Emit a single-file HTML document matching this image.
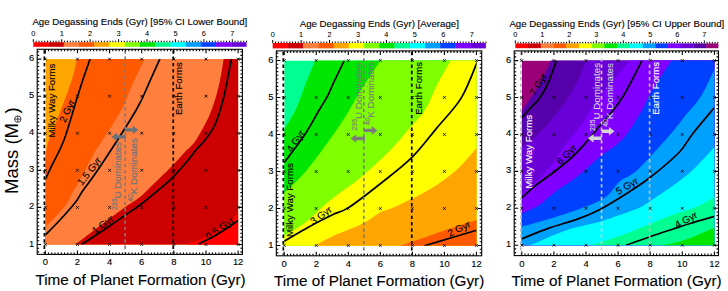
<!DOCTYPE html><html><head><meta charset="utf-8"><style>html,body{margin:0;padding:0;background:#fff;width:728px;height:291px;overflow:hidden}svg{display:block}</style></head><body>
<svg width="728" height="291" viewBox="0 0 728 291" font-family='"Liberation Sans", sans-serif'>
<rect width="728" height="291" fill="#fff"/>
<clipPath id="clip0"><rect x="45.4" y="59.1" width="192.7" height="185.5"/></clipPath>
<g clip-path="url(#clip0)">
<rect x="45.4" y="59.1" width="192.7" height="185.5" fill="#ffa500"/>
<path d="M76.80,39.10L76.80,58.90C75.97,62.42 75.10,69.82 71.80,80.00C68.50,90.18 60.83,110.00 57.00,120.00C53.17,130.00 50.75,134.00 48.80,140.00C46.85,146.00 45.88,153.33 45.30,156.00L25.40,156.00L25.40,264.60L258.10,264.60L258.10,39.10Z" fill="#ff5a00"/>
<path d="M144.50,39.10L144.50,58.90C142.08,64.08 133.87,81.48 130.00,90.00C126.13,98.52 126.30,100.95 121.30,110.00C116.30,119.05 104.47,137.22 100.00,144.30C95.53,151.38 98.17,145.95 94.50,152.50C90.83,159.05 81.42,177.35 78.00,183.60C74.58,189.85 76.22,186.18 74.00,190.00C71.78,193.82 69.33,200.50 64.70,206.50C60.07,212.50 49.43,222.67 46.20,226.00C42.97,229.33 45.45,226.42 45.30,226.50L25.40,226.50L25.40,264.60L258.10,264.60L258.10,39.10Z" fill="#ff7f3f"/>
<path d="M223.70,39.10L223.70,58.90C222.87,63.45 220.97,77.07 218.70,86.20C216.43,95.33 213.88,104.73 210.10,113.70C206.32,122.67 200.18,133.62 196.00,140.00C191.82,146.38 188.67,148.00 185.00,152.00C181.33,156.00 177.33,160.50 174.00,164.00C170.67,167.50 169.00,169.08 165.00,173.00C161.00,176.92 154.17,183.50 150.00,187.50C145.83,191.50 144.22,193.67 140.00,197.00C135.78,200.33 130.53,203.33 124.70,207.50C118.87,211.67 113.23,215.82 105.00,222.00C96.77,228.18 80.25,240.83 75.30,244.60L75.30,264.60L258.10,264.60L258.10,39.10Z" fill="#cc0000"/>
<path d="M258.10,213.20L238.10,213.20C233.73,216.65 220.40,228.78 211.90,233.90C203.40,239.02 191.23,242.23 187.10,243.90L187.10,264.60L258.10,264.60Z" fill="#ff0000"/>
<path d="M90.10,58.90C88.88,62.42 85.22,72.70 82.80,80.00C80.38,87.30 78.73,92.70 75.60,102.70C72.47,112.70 68.05,129.33 64.00,140.00C59.95,150.67 54.42,160.13 51.30,166.70C48.18,173.27 46.30,177.28 45.30,179.40" fill="none" stroke="#000" stroke-width="1.7" stroke-linejoin="round"/>
<path d="M159.90,58.90C158.25,62.55 153.95,72.28 150.00,80.80C146.05,89.32 144.53,95.67 136.20,110.00C127.87,124.33 108.82,153.47 100.00,166.80C91.18,180.13 87.12,184.47 83.30,190.00C79.48,195.53 78.98,197.25 77.10,200.00C75.22,202.75 74.85,203.17 72.00,206.50C69.15,209.83 64.45,215.25 60.00,220.00C55.55,224.75 47.75,232.50 45.30,235.00" fill="none" stroke="#000" stroke-width="1.7" stroke-linejoin="round"/>
<path d="M231.40,58.90C230.15,65.17 226.58,85.65 223.90,96.50C221.22,107.35 218.45,116.75 215.30,124.00C212.15,131.25 208.22,135.67 205.00,140.00C201.78,144.33 198.87,146.57 196.00,150.00C193.13,153.43 191.75,155.97 187.80,160.60C183.85,165.23 177.60,172.57 172.30,177.80C167.00,183.03 161.38,187.47 156.00,192.00C150.62,196.53 145.22,201.08 140.00,205.00C134.78,208.92 130.12,211.75 124.70,215.50C119.28,219.25 114.70,222.65 107.50,227.50C100.30,232.35 85.83,241.75 81.50,244.60" fill="none" stroke="#000" stroke-width="1.7" stroke-linejoin="round"/>
<path d="M198.50,243.90C201.75,242.23 211.40,237.80 218.00,233.90C224.60,230.00 234.75,222.73 238.10,220.50" fill="none" stroke="#000" stroke-width="1.7" stroke-linejoin="round"/>
</g>
<line x1="44.40" y1="50.3" x2="44.40" y2="253.4" stroke="#000" stroke-width="1.7" stroke-dasharray="3.4,2.9"/>
<line x1="173.26" y1="50.3" x2="173.26" y2="253.4" stroke="#000" stroke-width="1.7" stroke-dasharray="3.4,2.9"/>
<line x1="125.15" y1="50.3" x2="125.15" y2="253.4" stroke="#7a7a7a" stroke-width="1.6" stroke-dasharray="3.4,2.9"/>
<path d="M43.90,243.10L46.70,245.90M43.90,245.90L46.70,243.10" stroke="#000" stroke-width="0.85"/>
<path d="M43.90,206.02L46.70,208.82M43.90,208.82L46.70,206.02" stroke="#000" stroke-width="0.85"/>
<path d="M43.90,168.94L46.70,171.74M43.90,171.74L46.70,168.94" stroke="#000" stroke-width="0.85"/>
<path d="M43.90,131.86L46.70,134.66M43.90,134.66L46.70,131.86" stroke="#000" stroke-width="0.85"/>
<path d="M43.90,94.78L46.70,97.58M43.90,97.58L46.70,94.78" stroke="#000" stroke-width="0.85"/>
<path d="M43.90,57.70L46.70,60.50M43.90,60.50L46.70,57.70" stroke="#000" stroke-width="0.85"/>
<path d="M76.04,243.10L78.84,245.90M76.04,245.90L78.84,243.10" stroke="#000" stroke-width="0.85"/>
<path d="M76.04,206.02L78.84,208.82M76.04,208.82L78.84,206.02" stroke="#000" stroke-width="0.85"/>
<path d="M76.04,168.94L78.84,171.74M76.04,171.74L78.84,168.94" stroke="#000" stroke-width="0.85"/>
<path d="M76.04,131.86L78.84,134.66M76.04,134.66L78.84,131.86" stroke="#000" stroke-width="0.85"/>
<path d="M76.04,94.78L78.84,97.58M76.04,97.58L78.84,94.78" stroke="#000" stroke-width="0.85"/>
<path d="M76.04,57.70L78.84,60.50M76.04,60.50L78.84,57.70" stroke="#000" stroke-width="0.85"/>
<path d="M108.18,243.10L110.98,245.90M108.18,245.90L110.98,243.10" stroke="#000" stroke-width="0.85"/>
<path d="M108.18,206.02L110.98,208.82M108.18,208.82L110.98,206.02" stroke="#000" stroke-width="0.85"/>
<path d="M108.18,168.94L110.98,171.74M108.18,171.74L110.98,168.94" stroke="#000" stroke-width="0.85"/>
<path d="M108.18,131.86L110.98,134.66M108.18,134.66L110.98,131.86" stroke="#000" stroke-width="0.85"/>
<path d="M108.18,94.78L110.98,97.58M108.18,97.58L110.98,94.78" stroke="#000" stroke-width="0.85"/>
<path d="M108.18,57.70L110.98,60.50M108.18,60.50L110.98,57.70" stroke="#000" stroke-width="0.85"/>
<path d="M140.32,243.10L143.12,245.90M140.32,245.90L143.12,243.10" stroke="#000" stroke-width="0.85"/>
<path d="M140.32,206.02L143.12,208.82M140.32,208.82L143.12,206.02" stroke="#000" stroke-width="0.85"/>
<path d="M140.32,168.94L143.12,171.74M140.32,171.74L143.12,168.94" stroke="#000" stroke-width="0.85"/>
<path d="M140.32,131.86L143.12,134.66M140.32,134.66L143.12,131.86" stroke="#000" stroke-width="0.85"/>
<path d="M140.32,94.78L143.12,97.58M140.32,97.58L143.12,94.78" stroke="#000" stroke-width="0.85"/>
<path d="M140.32,57.70L143.12,60.50M140.32,60.50L143.12,57.70" stroke="#000" stroke-width="0.85"/>
<path d="M172.46,243.10L175.26,245.90M172.46,245.90L175.26,243.10" stroke="#000" stroke-width="0.85"/>
<path d="M172.46,206.02L175.26,208.82M172.46,208.82L175.26,206.02" stroke="#000" stroke-width="0.85"/>
<path d="M172.46,168.94L175.26,171.74M172.46,171.74L175.26,168.94" stroke="#000" stroke-width="0.85"/>
<path d="M172.46,131.86L175.26,134.66M172.46,134.66L175.26,131.86" stroke="#000" stroke-width="0.85"/>
<path d="M172.46,94.78L175.26,97.58M172.46,97.58L175.26,94.78" stroke="#000" stroke-width="0.85"/>
<path d="M172.46,57.70L175.26,60.50M172.46,60.50L175.26,57.70" stroke="#000" stroke-width="0.85"/>
<path d="M204.60,243.10L207.40,245.90M204.60,245.90L207.40,243.10" stroke="#000" stroke-width="0.85"/>
<path d="M204.60,206.02L207.40,208.82M204.60,208.82L207.40,206.02" stroke="#000" stroke-width="0.85"/>
<path d="M204.60,168.94L207.40,171.74M204.60,171.74L207.40,168.94" stroke="#000" stroke-width="0.85"/>
<path d="M204.60,131.86L207.40,134.66M204.60,134.66L207.40,131.86" stroke="#000" stroke-width="0.85"/>
<path d="M204.60,94.78L207.40,97.58M204.60,97.58L207.40,94.78" stroke="#000" stroke-width="0.85"/>
<path d="M204.60,57.70L207.40,60.50M204.60,60.50L207.40,57.70" stroke="#000" stroke-width="0.85"/>
<path d="M236.74,243.10L239.54,245.90M236.74,245.90L239.54,243.10" stroke="#000" stroke-width="0.85"/>
<path d="M236.74,206.02L239.54,208.82M236.74,208.82L239.54,206.02" stroke="#000" stroke-width="0.85"/>
<path d="M236.74,168.94L239.54,171.74M236.74,171.74L239.54,168.94" stroke="#000" stroke-width="0.85"/>
<path d="M236.74,131.86L239.54,134.66M236.74,134.66L239.54,131.86" stroke="#000" stroke-width="0.85"/>
<path d="M236.74,94.78L239.54,97.58M236.74,97.58L239.54,94.78" stroke="#000" stroke-width="0.85"/>
<path d="M236.74,57.70L239.54,60.50M236.74,60.50L239.54,57.70" stroke="#000" stroke-width="0.85"/>
<rect x="37.2" y="49.3" width="205.2" height="205.10000000000002" fill="none" stroke="#000" stroke-width="1.1"/>
<path d="M45.30,254.4v-4M45.30,49.3v4M48.51,254.4v-2M48.51,49.3v2M51.73,254.4v-2M51.73,49.3v2M54.94,254.4v-2M54.94,49.3v2M58.16,254.4v-2M58.16,49.3v2M61.37,254.4v-2M61.37,49.3v2M64.58,254.4v-2M64.58,49.3v2M67.80,254.4v-2M67.80,49.3v2M71.01,254.4v-2M71.01,49.3v2M74.23,254.4v-2M74.23,49.3v2M77.44,254.4v-4M77.44,49.3v4M80.65,254.4v-2M80.65,49.3v2M83.87,254.4v-2M83.87,49.3v2M87.08,254.4v-2M87.08,49.3v2M90.30,254.4v-2M90.30,49.3v2M93.51,254.4v-2M93.51,49.3v2M96.72,254.4v-2M96.72,49.3v2M99.94,254.4v-2M99.94,49.3v2M103.15,254.4v-2M103.15,49.3v2M106.37,254.4v-2M106.37,49.3v2M109.58,254.4v-4M109.58,49.3v4M112.79,254.4v-2M112.79,49.3v2M116.01,254.4v-2M116.01,49.3v2M119.22,254.4v-2M119.22,49.3v2M122.44,254.4v-2M122.44,49.3v2M125.65,254.4v-2M125.65,49.3v2M128.86,254.4v-2M128.86,49.3v2M132.08,254.4v-2M132.08,49.3v2M135.29,254.4v-2M135.29,49.3v2M138.51,254.4v-2M138.51,49.3v2M141.72,254.4v-4M141.72,49.3v4M144.93,254.4v-2M144.93,49.3v2M148.15,254.4v-2M148.15,49.3v2M151.36,254.4v-2M151.36,49.3v2M154.58,254.4v-2M154.58,49.3v2M157.79,254.4v-2M157.79,49.3v2M161.00,254.4v-2M161.00,49.3v2M164.22,254.4v-2M164.22,49.3v2M167.43,254.4v-2M167.43,49.3v2M170.65,254.4v-2M170.65,49.3v2M173.86,254.4v-4M173.86,49.3v4M177.07,254.4v-2M177.07,49.3v2M180.29,254.4v-2M180.29,49.3v2M183.50,254.4v-2M183.50,49.3v2M186.72,254.4v-2M186.72,49.3v2M189.93,254.4v-2M189.93,49.3v2M193.14,254.4v-2M193.14,49.3v2M196.36,254.4v-2M196.36,49.3v2M199.57,254.4v-2M199.57,49.3v2M202.79,254.4v-2M202.79,49.3v2M206.00,254.4v-4M206.00,49.3v4M209.21,254.4v-2M209.21,49.3v2M212.43,254.4v-2M212.43,49.3v2M215.64,254.4v-2M215.64,49.3v2M218.86,254.4v-2M218.86,49.3v2M222.07,254.4v-2M222.07,49.3v2M225.28,254.4v-2M225.28,49.3v2M228.50,254.4v-2M228.50,49.3v2M231.71,254.4v-2M231.71,49.3v2M234.93,254.4v-2M234.93,49.3v2M238.14,254.4v-4M238.14,49.3v4M37.2,244.50h4M242.4,244.50h-4M37.2,240.79h2M242.4,240.79h-2M37.2,237.08h2M242.4,237.08h-2M37.2,233.38h2M242.4,233.38h-2M37.2,229.67h2M242.4,229.67h-2M37.2,225.96h2M242.4,225.96h-2M37.2,222.25h2M242.4,222.25h-2M37.2,218.54h2M242.4,218.54h-2M37.2,214.84h2M242.4,214.84h-2M37.2,211.13h2M242.4,211.13h-2M37.2,207.42h4M242.4,207.42h-4M37.2,203.71h2M242.4,203.71h-2M37.2,200.00h2M242.4,200.00h-2M37.2,196.30h2M242.4,196.30h-2M37.2,192.59h2M242.4,192.59h-2M37.2,188.88h2M242.4,188.88h-2M37.2,185.17h2M242.4,185.17h-2M37.2,181.46h2M242.4,181.46h-2M37.2,177.76h2M242.4,177.76h-2M37.2,174.05h2M242.4,174.05h-2M37.2,170.34h4M242.4,170.34h-4M37.2,166.63h2M242.4,166.63h-2M37.2,162.92h2M242.4,162.92h-2M37.2,159.22h2M242.4,159.22h-2M37.2,155.51h2M242.4,155.51h-2M37.2,151.80h2M242.4,151.80h-2M37.2,148.09h2M242.4,148.09h-2M37.2,144.38h2M242.4,144.38h-2M37.2,140.68h2M242.4,140.68h-2M37.2,136.97h2M242.4,136.97h-2M37.2,133.26h4M242.4,133.26h-4M37.2,129.55h2M242.4,129.55h-2M37.2,125.84h2M242.4,125.84h-2M37.2,122.14h2M242.4,122.14h-2M37.2,118.43h2M242.4,118.43h-2M37.2,114.72h2M242.4,114.72h-2M37.2,111.01h2M242.4,111.01h-2M37.2,107.30h2M242.4,107.30h-2M37.2,103.60h2M242.4,103.60h-2M37.2,99.89h2M242.4,99.89h-2M37.2,96.18h4M242.4,96.18h-4M37.2,92.47h2M242.4,92.47h-2M37.2,88.76h2M242.4,88.76h-2M37.2,85.06h2M242.4,85.06h-2M37.2,81.35h2M242.4,81.35h-2M37.2,77.64h2M242.4,77.64h-2M37.2,73.93h2M242.4,73.93h-2M37.2,70.22h2M242.4,70.22h-2M37.2,66.52h2M242.4,66.52h-2M37.2,62.81h2M242.4,62.81h-2M37.2,59.10h4M242.4,59.10h-4M37.2,55.39h2M242.4,55.39h-2M37.2,51.68h2M242.4,51.68h-2M37.2,248.21h2M242.4,248.21h-2M37.2,55.39h2M242.4,55.39h-2M37.2,251.92h2M242.4,251.92h-2M37.2,51.68h2M242.4,51.68h-2" stroke="#000" stroke-width="1.1" fill="none"/>
<text x="45.30" y="265.20" font-size="9.4" fill="#000" stroke="#000" stroke-width="0.12" text-anchor="middle">0</text>
<text x="77.44" y="265.20" font-size="9.4" fill="#000" stroke="#000" stroke-width="0.12" text-anchor="middle">2</text>
<text x="109.58" y="265.20" font-size="9.4" fill="#000" stroke="#000" stroke-width="0.12" text-anchor="middle">4</text>
<text x="141.72" y="265.20" font-size="9.4" fill="#000" stroke="#000" stroke-width="0.12" text-anchor="middle">6</text>
<text x="173.86" y="265.20" font-size="9.4" fill="#000" stroke="#000" stroke-width="0.12" text-anchor="middle">8</text>
<text x="206.00" y="265.20" font-size="9.4" fill="#000" stroke="#000" stroke-width="0.12" text-anchor="middle">10</text>
<text x="238.14" y="265.20" font-size="9.4" fill="#000" stroke="#000" stroke-width="0.12" text-anchor="middle">12</text>
<text x="34.20" y="246.50" font-size="9.4" fill="#000" stroke="#000" stroke-width="0.12" text-anchor="end">1</text>
<text x="34.20" y="209.42" font-size="9.4" fill="#000" stroke="#000" stroke-width="0.12" text-anchor="end">2</text>
<text x="34.20" y="172.34" font-size="9.4" fill="#000" stroke="#000" stroke-width="0.12" text-anchor="end">3</text>
<text x="34.20" y="135.26" font-size="9.4" fill="#000" stroke="#000" stroke-width="0.12" text-anchor="end">4</text>
<text x="34.20" y="98.18" font-size="9.4" fill="#000" stroke="#000" stroke-width="0.12" text-anchor="end">5</text>
<text x="34.20" y="61.10" font-size="9.4" fill="#000" stroke="#000" stroke-width="0.12" text-anchor="end">6</text>
<text x="35.40" y="285.20" font-size="15.3" fill="#000" stroke="#000" stroke-width="0.12" text-anchor="start">Time of Planet Formation (Gyr)</text>
<rect x="33.30" y="42.2" width="15.54" height="4.599999999999994" fill="#ff0000"/>
<rect x="48.54" y="42.2" width="15.54" height="4.599999999999994" fill="#cc0000"/>
<rect x="63.77" y="42.2" width="15.54" height="4.599999999999994" fill="#ff7f3f"/>
<rect x="79.01" y="42.2" width="15.54" height="4.599999999999994" fill="#ff5a00"/>
<rect x="94.24" y="42.2" width="15.54" height="4.599999999999994" fill="#ffa500"/>
<rect x="109.48" y="42.2" width="15.54" height="4.599999999999994" fill="#ffff00"/>
<rect x="124.71" y="42.2" width="15.54" height="4.599999999999994" fill="#80ff00"/>
<rect x="139.95" y="42.2" width="15.54" height="4.599999999999994" fill="#00e600"/>
<rect x="155.19" y="42.2" width="15.54" height="4.599999999999994" fill="#00ff90"/>
<rect x="170.42" y="42.2" width="15.54" height="4.599999999999994" fill="#00ffff"/>
<rect x="185.66" y="42.2" width="15.54" height="4.599999999999994" fill="#00a0ff"/>
<rect x="200.89" y="42.2" width="15.54" height="4.599999999999994" fill="#0040ff"/>
<rect x="216.13" y="42.2" width="15.54" height="4.599999999999994" fill="#7f00ff"/>
<rect x="231.36" y="42.2" width="15.24" height="4.599999999999994" fill="#6a00d8"/>
<path d="M33.30,42.2v-3M36.14,42.2v-1.5M38.99,42.2v-1.5M41.83,42.2v-1.5M44.67,42.2v-1.5M47.52,42.2v-1.5M50.36,42.2v-1.5M53.20,42.2v-1.5M56.04,42.2v-1.5M58.89,42.2v-1.5M61.73,42.2v-3M64.57,42.2v-1.5M67.42,42.2v-1.5M70.26,42.2v-1.5M73.10,42.2v-1.5M75.94,42.2v-1.5M78.79,42.2v-1.5M81.63,42.2v-1.5M84.47,42.2v-1.5M87.32,42.2v-1.5M90.16,42.2v-3M93.00,42.2v-1.5M95.85,42.2v-1.5M98.69,42.2v-1.5M101.53,42.2v-1.5M104.38,42.2v-1.5M107.22,42.2v-1.5M110.06,42.2v-1.5M112.90,42.2v-1.5M115.75,42.2v-1.5M118.59,42.2v-3M121.43,42.2v-1.5M124.28,42.2v-1.5M127.12,42.2v-1.5M129.96,42.2v-1.5M132.81,42.2v-1.5M135.65,42.2v-1.5M138.49,42.2v-1.5M141.33,42.2v-1.5M144.18,42.2v-1.5M147.02,42.2v-3M149.86,42.2v-1.5M152.71,42.2v-1.5M155.55,42.2v-1.5M158.39,42.2v-1.5M161.24,42.2v-1.5M164.08,42.2v-1.5M166.92,42.2v-1.5M169.76,42.2v-1.5M172.61,42.2v-1.5M175.45,42.2v-3M178.29,42.2v-1.5M181.14,42.2v-1.5M183.98,42.2v-1.5M186.82,42.2v-1.5M189.67,42.2v-1.5M192.51,42.2v-1.5M195.35,42.2v-1.5M198.19,42.2v-1.5M201.04,42.2v-1.5M203.88,42.2v-3M206.72,42.2v-1.5M209.57,42.2v-1.5M212.41,42.2v-1.5M215.25,42.2v-1.5M218.09,42.2v-1.5M220.94,42.2v-1.5M223.78,42.2v-1.5M226.62,42.2v-1.5M229.47,42.2v-1.5M232.31,42.2v-3M235.15,42.2v-1.5M238.00,42.2v-1.5M240.84,42.2v-1.5M243.68,42.2v-1.5M246.52,42.2v-1.5" stroke="#000" stroke-width="1" fill="none"/>
<text x="33.30" y="35.70" font-size="7.4" fill="#000" stroke="#000" stroke-width="0.05" text-anchor="middle">0</text>
<text x="61.73" y="35.70" font-size="7.4" fill="#000" stroke="#000" stroke-width="0.05" text-anchor="middle">1</text>
<text x="90.16" y="35.70" font-size="7.4" fill="#000" stroke="#000" stroke-width="0.05" text-anchor="middle">2</text>
<text x="118.59" y="35.70" font-size="7.4" fill="#000" stroke="#000" stroke-width="0.05" text-anchor="middle">3</text>
<text x="147.02" y="35.70" font-size="7.4" fill="#000" stroke="#000" stroke-width="0.05" text-anchor="middle">4</text>
<text x="175.45" y="35.70" font-size="7.4" fill="#000" stroke="#000" stroke-width="0.05" text-anchor="middle">5</text>
<text x="203.88" y="35.70" font-size="7.4" fill="#000" stroke="#000" stroke-width="0.05" text-anchor="middle">6</text>
<text x="232.31" y="35.70" font-size="7.4" fill="#000" stroke="#000" stroke-width="0.05" text-anchor="middle">7</text>
<text x="32.40" y="25.40" font-size="9.7" fill="#000" stroke="#000" stroke-width="0.12" text-anchor="start">Age Degassing Ends (Gyr) [95% CI Lower Bound]</text>
<text x="54.70" y="137.50" font-size="9.7" fill="#000" stroke="#000" stroke-width="0.12" text-anchor="start" transform="rotate(-90 54.70 137.50)">Milky Way Forms</text>
<text x="182.50" y="115.10" font-size="9.6" fill="#000" stroke="#000" stroke-width="0.12" text-anchor="start" transform="rotate(-90 182.50 115.10)">Earth Forms</text>
<text x="121.4" y="210" font-size="9.8" fill="#68737b" stroke="#68737b" stroke-width="0.12" transform="rotate(-90 121.4 210)"><tspan font-size="6.9" dy="-4.4">235</tspan><tspan dy="4.4">U Dominates</tspan></text>
<text x="137.2" y="201.8" font-size="9.8" fill="#68737b" stroke="#68737b" stroke-width="0.12" transform="rotate(-90 137.2 201.8)"><tspan font-size="6.9" dy="-4.4">40</tspan><tspan dy="4.4">K Dominates</tspan></text>
<path d="M124.9,128.20000000000002H132.70000000000002V125.60000000000001L138.3,129.9L132.70000000000002,134.20000000000002V131.6H124.9Z" fill="#68737b"/>
<path d="M125.9,135.20000000000002H117.1V132.6L111.5,136.9L117.1,141.20000000000002V138.6H125.9Z" fill="#68737b"/>
<text x="67" y="111" font-size="9.8" fill="#000" stroke="#000" stroke-width="0.12" text-anchor="middle" dy="3.4" transform="rotate(-66 67 111)">2 Gyr</text>
<text x="89.3" y="171.2" font-size="9.8" fill="#000" stroke="#000" stroke-width="0.12" text-anchor="middle" dy="3.4" transform="rotate(-52 89.3 171.2)">1.5 Gyr</text>
<text x="102.7" y="224.6" font-size="9.8" fill="#000" stroke="#000" stroke-width="0.12" text-anchor="middle" dy="3.4" transform="rotate(-37 102.7 224.6)">1 Gyr</text>
<text x="219.8" y="228.2" font-size="9.8" fill="#000" stroke="#000" stroke-width="0.12" text-anchor="middle" dy="3.4" transform="rotate(-35 219.8 228.2)">0.5 Gyr</text>
<clipPath id="clip1"><rect x="284.2" y="60.5" width="192.40000000000003" height="185.2"/></clipPath>
<g clip-path="url(#clip1)">
<rect x="284.2" y="60.5" width="192.40000000000003" height="185.2" fill="#00ff90"/>
<path d="M315.10,40.50L315.10,60.50C313.38,64.73 308.07,77.65 304.80,85.90C301.53,94.15 298.77,103.07 295.50,110.00C292.23,116.93 287.08,124.33 285.20,127.50C283.32,130.67 284.37,128.75 284.20,129.00L264.20,129.00L264.20,265.70L496.60,265.70L496.60,40.50Z" fill="#00e600"/>
<path d="M380.40,40.50L380.40,60.50C377.17,65.42 367.73,79.25 361.00,90.00C354.27,100.75 349.03,111.67 340.00,125.00C330.97,138.33 315.93,158.87 306.80,170.00C297.67,181.13 288.97,187.97 285.20,191.80C281.43,195.63 284.37,192.80 284.20,193.00L264.20,193.00L264.20,265.70L496.60,265.70L496.60,40.50Z" fill="#80ff00"/>
<path d="M450.50,40.50L450.50,60.50C448.25,64.58 441.18,76.87 437.00,85.00C432.82,93.13 430.22,101.80 425.40,109.30C420.58,116.80 414.18,122.95 408.10,130.00C402.02,137.05 396.92,143.58 388.90,151.60C380.88,159.62 369.82,169.95 360.00,178.10C350.18,186.25 339.00,193.18 330.00,200.50C321.00,207.82 313.63,216.08 306.00,222.00C298.37,227.92 287.83,233.67 284.20,236.00L264.20,236.00L264.20,265.70L496.60,265.70L496.60,40.50Z" fill="#ffff00"/>
<path d="M496.60,148.00L476.60,148.00C473.10,151.80 463.52,163.85 455.60,170.80C447.68,177.75 439.18,183.72 429.10,189.70C419.02,195.68 403.28,202.92 395.10,206.70C386.92,210.48 385.53,209.52 380.00,212.40C374.47,215.28 369.73,220.07 361.90,224.00C354.07,227.93 340.80,232.38 333.00,236.00C325.20,239.62 318.08,244.08 315.10,245.70L315.10,265.70L496.60,265.70Z" fill="#ffa500"/>
<path d="M496.60,220.00L476.60,220.00C470.50,221.98 452.70,227.62 440.00,231.90C427.30,236.18 407.00,243.40 400.40,245.70L400.40,265.70L496.60,265.70Z" fill="#ff5a00"/>
<path d="M344.30,60.50C342.42,64.40 335.80,77.95 333.00,83.90C330.20,89.85 329.80,91.85 327.50,96.20C325.20,100.55 323.00,103.58 319.20,110.00C315.40,116.42 310.53,125.93 304.70,134.70C298.87,143.47 287.62,157.95 284.20,162.60" fill="none" stroke="#000" stroke-width="1.7" stroke-linejoin="round"/>
<path d="M477.80,60.50C475.05,66.73 468.15,86.63 461.30,97.90C454.45,109.17 444.97,118.13 436.70,128.10C428.43,138.07 421.15,148.38 411.70,157.70C402.25,167.02 390.47,175.72 380.00,184.00C369.53,192.28 356.73,202.32 348.90,207.40C341.07,212.48 338.63,211.80 333.00,214.50C327.37,217.20 323.23,219.17 315.10,223.60C306.97,228.03 289.35,238.18 284.20,241.10" fill="none" stroke="#000" stroke-width="1.7" stroke-linejoin="round"/>
<path d="M476.60,230.30C470.50,232.10 448.70,238.53 440.00,241.10C431.30,243.67 427.00,244.93 424.40,245.70" fill="none" stroke="#000" stroke-width="1.7" stroke-linejoin="round"/>
</g>
<line x1="283.30" y1="51.9" x2="283.30" y2="254.8" stroke="#000" stroke-width="1.7" stroke-dasharray="3.4,2.9"/>
<line x1="411.76" y1="51.9" x2="411.76" y2="254.8" stroke="#000" stroke-width="1.7" stroke-dasharray="3.4,2.9"/>
<line x1="363.80" y1="51.9" x2="363.80" y2="254.8" stroke="#7a7a7a" stroke-width="1.6" stroke-dasharray="3.4,2.9"/>
<path d="M282.80,244.10L285.60,246.90M282.80,246.90L285.60,244.10" stroke="#000" stroke-width="0.85"/>
<path d="M282.80,207.10L285.60,209.90M282.80,209.90L285.60,207.10" stroke="#000" stroke-width="0.85"/>
<path d="M282.80,170.10L285.60,172.90M282.80,172.90L285.60,170.10" stroke="#000" stroke-width="0.85"/>
<path d="M282.80,133.10L285.60,135.90M282.80,135.90L285.60,133.10" stroke="#000" stroke-width="0.85"/>
<path d="M282.80,96.10L285.60,98.90M282.80,98.90L285.60,96.10" stroke="#000" stroke-width="0.85"/>
<path d="M282.80,59.10L285.60,61.90M282.80,61.90L285.60,59.10" stroke="#000" stroke-width="0.85"/>
<path d="M314.84,244.10L317.64,246.90M314.84,246.90L317.64,244.10" stroke="#000" stroke-width="0.85"/>
<path d="M314.84,207.10L317.64,209.90M314.84,209.90L317.64,207.10" stroke="#000" stroke-width="0.85"/>
<path d="M314.84,170.10L317.64,172.90M314.84,172.90L317.64,170.10" stroke="#000" stroke-width="0.85"/>
<path d="M314.84,133.10L317.64,135.90M314.84,135.90L317.64,133.10" stroke="#000" stroke-width="0.85"/>
<path d="M314.84,96.10L317.64,98.90M314.84,98.90L317.64,96.10" stroke="#000" stroke-width="0.85"/>
<path d="M314.84,59.10L317.64,61.90M314.84,61.90L317.64,59.10" stroke="#000" stroke-width="0.85"/>
<path d="M346.88,244.10L349.68,246.90M346.88,246.90L349.68,244.10" stroke="#000" stroke-width="0.85"/>
<path d="M346.88,207.10L349.68,209.90M346.88,209.90L349.68,207.10" stroke="#000" stroke-width="0.85"/>
<path d="M346.88,170.10L349.68,172.90M346.88,172.90L349.68,170.10" stroke="#000" stroke-width="0.85"/>
<path d="M346.88,133.10L349.68,135.90M346.88,135.90L349.68,133.10" stroke="#000" stroke-width="0.85"/>
<path d="M346.88,96.10L349.68,98.90M346.88,98.90L349.68,96.10" stroke="#000" stroke-width="0.85"/>
<path d="M346.88,59.10L349.68,61.90M346.88,61.90L349.68,59.10" stroke="#000" stroke-width="0.85"/>
<path d="M378.92,244.10L381.72,246.90M378.92,246.90L381.72,244.10" stroke="#000" stroke-width="0.85"/>
<path d="M378.92,207.10L381.72,209.90M378.92,209.90L381.72,207.10" stroke="#000" stroke-width="0.85"/>
<path d="M378.92,170.10L381.72,172.90M378.92,172.90L381.72,170.10" stroke="#000" stroke-width="0.85"/>
<path d="M378.92,133.10L381.72,135.90M378.92,135.90L381.72,133.10" stroke="#000" stroke-width="0.85"/>
<path d="M378.92,96.10L381.72,98.90M378.92,98.90L381.72,96.10" stroke="#000" stroke-width="0.85"/>
<path d="M378.92,59.10L381.72,61.90M378.92,61.90L381.72,59.10" stroke="#000" stroke-width="0.85"/>
<path d="M410.96,244.10L413.76,246.90M410.96,246.90L413.76,244.10" stroke="#000" stroke-width="0.85"/>
<path d="M410.96,207.10L413.76,209.90M410.96,209.90L413.76,207.10" stroke="#000" stroke-width="0.85"/>
<path d="M410.96,170.10L413.76,172.90M410.96,172.90L413.76,170.10" stroke="#000" stroke-width="0.85"/>
<path d="M410.96,133.10L413.76,135.90M410.96,135.90L413.76,133.10" stroke="#000" stroke-width="0.85"/>
<path d="M410.96,96.10L413.76,98.90M410.96,98.90L413.76,96.10" stroke="#000" stroke-width="0.85"/>
<path d="M410.96,59.10L413.76,61.90M410.96,61.90L413.76,59.10" stroke="#000" stroke-width="0.85"/>
<path d="M443.00,244.10L445.80,246.90M443.00,246.90L445.80,244.10" stroke="#000" stroke-width="0.85"/>
<path d="M443.00,207.10L445.80,209.90M443.00,209.90L445.80,207.10" stroke="#000" stroke-width="0.85"/>
<path d="M443.00,170.10L445.80,172.90M443.00,172.90L445.80,170.10" stroke="#000" stroke-width="0.85"/>
<path d="M443.00,133.10L445.80,135.90M443.00,135.90L445.80,133.10" stroke="#000" stroke-width="0.85"/>
<path d="M443.00,96.10L445.80,98.90M443.00,98.90L445.80,96.10" stroke="#000" stroke-width="0.85"/>
<path d="M443.00,59.10L445.80,61.90M443.00,61.90L445.80,59.10" stroke="#000" stroke-width="0.85"/>
<path d="M475.04,244.10L477.84,246.90M475.04,246.90L477.84,244.10" stroke="#000" stroke-width="0.85"/>
<path d="M475.04,207.10L477.84,209.90M475.04,209.90L477.84,207.10" stroke="#000" stroke-width="0.85"/>
<path d="M475.04,170.10L477.84,172.90M475.04,172.90L477.84,170.10" stroke="#000" stroke-width="0.85"/>
<path d="M475.04,133.10L477.84,135.90M475.04,135.90L477.84,133.10" stroke="#000" stroke-width="0.85"/>
<path d="M475.04,96.10L477.84,98.90M475.04,98.90L477.84,96.10" stroke="#000" stroke-width="0.85"/>
<path d="M475.04,59.10L477.84,61.90M475.04,61.90L477.84,59.10" stroke="#000" stroke-width="0.85"/>
<rect x="276.3" y="50.9" width="205.39999999999998" height="204.9" fill="none" stroke="#000" stroke-width="1.1"/>
<path d="M284.20,255.8v-4M284.20,50.9v4M287.40,255.8v-2M287.40,50.9v2M290.61,255.8v-2M290.61,50.9v2M293.81,255.8v-2M293.81,50.9v2M297.02,255.8v-2M297.02,50.9v2M300.22,255.8v-2M300.22,50.9v2M303.42,255.8v-2M303.42,50.9v2M306.63,255.8v-2M306.63,50.9v2M309.83,255.8v-2M309.83,50.9v2M313.04,255.8v-2M313.04,50.9v2M316.24,255.8v-4M316.24,50.9v4M319.44,255.8v-2M319.44,50.9v2M322.65,255.8v-2M322.65,50.9v2M325.85,255.8v-2M325.85,50.9v2M329.06,255.8v-2M329.06,50.9v2M332.26,255.8v-2M332.26,50.9v2M335.46,255.8v-2M335.46,50.9v2M338.67,255.8v-2M338.67,50.9v2M341.87,255.8v-2M341.87,50.9v2M345.08,255.8v-2M345.08,50.9v2M348.28,255.8v-4M348.28,50.9v4M351.48,255.8v-2M351.48,50.9v2M354.69,255.8v-2M354.69,50.9v2M357.89,255.8v-2M357.89,50.9v2M361.10,255.8v-2M361.10,50.9v2M364.30,255.8v-2M364.30,50.9v2M367.50,255.8v-2M367.50,50.9v2M370.71,255.8v-2M370.71,50.9v2M373.91,255.8v-2M373.91,50.9v2M377.12,255.8v-2M377.12,50.9v2M380.32,255.8v-4M380.32,50.9v4M383.52,255.8v-2M383.52,50.9v2M386.73,255.8v-2M386.73,50.9v2M389.93,255.8v-2M389.93,50.9v2M393.14,255.8v-2M393.14,50.9v2M396.34,255.8v-2M396.34,50.9v2M399.54,255.8v-2M399.54,50.9v2M402.75,255.8v-2M402.75,50.9v2M405.95,255.8v-2M405.95,50.9v2M409.16,255.8v-2M409.16,50.9v2M412.36,255.8v-4M412.36,50.9v4M415.56,255.8v-2M415.56,50.9v2M418.77,255.8v-2M418.77,50.9v2M421.97,255.8v-2M421.97,50.9v2M425.18,255.8v-2M425.18,50.9v2M428.38,255.8v-2M428.38,50.9v2M431.58,255.8v-2M431.58,50.9v2M434.79,255.8v-2M434.79,50.9v2M437.99,255.8v-2M437.99,50.9v2M441.20,255.8v-2M441.20,50.9v2M444.40,255.8v-4M444.40,50.9v4M447.60,255.8v-2M447.60,50.9v2M450.81,255.8v-2M450.81,50.9v2M454.01,255.8v-2M454.01,50.9v2M457.22,255.8v-2M457.22,50.9v2M460.42,255.8v-2M460.42,50.9v2M463.62,255.8v-2M463.62,50.9v2M466.83,255.8v-2M466.83,50.9v2M470.03,255.8v-2M470.03,50.9v2M473.24,255.8v-2M473.24,50.9v2M476.44,255.8v-4M476.44,50.9v4M276.3,245.50h4M481.7,245.50h-4M276.3,241.80h2M481.7,241.80h-2M276.3,238.10h2M481.7,238.10h-2M276.3,234.40h2M481.7,234.40h-2M276.3,230.70h2M481.7,230.70h-2M276.3,227.00h2M481.7,227.00h-2M276.3,223.30h2M481.7,223.30h-2M276.3,219.60h2M481.7,219.60h-2M276.3,215.90h2M481.7,215.90h-2M276.3,212.20h2M481.7,212.20h-2M276.3,208.50h4M481.7,208.50h-4M276.3,204.80h2M481.7,204.80h-2M276.3,201.10h2M481.7,201.10h-2M276.3,197.40h2M481.7,197.40h-2M276.3,193.70h2M481.7,193.70h-2M276.3,190.00h2M481.7,190.00h-2M276.3,186.30h2M481.7,186.30h-2M276.3,182.60h2M481.7,182.60h-2M276.3,178.90h2M481.7,178.90h-2M276.3,175.20h2M481.7,175.20h-2M276.3,171.50h4M481.7,171.50h-4M276.3,167.80h2M481.7,167.80h-2M276.3,164.10h2M481.7,164.10h-2M276.3,160.40h2M481.7,160.40h-2M276.3,156.70h2M481.7,156.70h-2M276.3,153.00h2M481.7,153.00h-2M276.3,149.30h2M481.7,149.30h-2M276.3,145.60h2M481.7,145.60h-2M276.3,141.90h2M481.7,141.90h-2M276.3,138.20h2M481.7,138.20h-2M276.3,134.50h4M481.7,134.50h-4M276.3,130.80h2M481.7,130.80h-2M276.3,127.10h2M481.7,127.10h-2M276.3,123.40h2M481.7,123.40h-2M276.3,119.70h2M481.7,119.70h-2M276.3,116.00h2M481.7,116.00h-2M276.3,112.30h2M481.7,112.30h-2M276.3,108.60h2M481.7,108.60h-2M276.3,104.90h2M481.7,104.90h-2M276.3,101.20h2M481.7,101.20h-2M276.3,97.50h4M481.7,97.50h-4M276.3,93.80h2M481.7,93.80h-2M276.3,90.10h2M481.7,90.10h-2M276.3,86.40h2M481.7,86.40h-2M276.3,82.70h2M481.7,82.70h-2M276.3,79.00h2M481.7,79.00h-2M276.3,75.30h2M481.7,75.30h-2M276.3,71.60h2M481.7,71.60h-2M276.3,67.90h2M481.7,67.90h-2M276.3,64.20h2M481.7,64.20h-2M276.3,60.50h4M481.7,60.50h-4M276.3,56.80h2M481.7,56.80h-2M276.3,53.10h2M481.7,53.10h-2M276.3,249.20h2M481.7,249.20h-2M276.3,56.80h2M481.7,56.80h-2M276.3,252.90h2M481.7,252.90h-2M276.3,53.10h2M481.7,53.10h-2" stroke="#000" stroke-width="1.1" fill="none"/>
<text x="284.20" y="266.60" font-size="9.4" fill="#000" stroke="#000" stroke-width="0.12" text-anchor="middle">0</text>
<text x="316.24" y="266.60" font-size="9.4" fill="#000" stroke="#000" stroke-width="0.12" text-anchor="middle">2</text>
<text x="348.28" y="266.60" font-size="9.4" fill="#000" stroke="#000" stroke-width="0.12" text-anchor="middle">4</text>
<text x="380.32" y="266.60" font-size="9.4" fill="#000" stroke="#000" stroke-width="0.12" text-anchor="middle">6</text>
<text x="412.36" y="266.60" font-size="9.4" fill="#000" stroke="#000" stroke-width="0.12" text-anchor="middle">8</text>
<text x="444.40" y="266.60" font-size="9.4" fill="#000" stroke="#000" stroke-width="0.12" text-anchor="middle">10</text>
<text x="476.44" y="266.60" font-size="9.4" fill="#000" stroke="#000" stroke-width="0.12" text-anchor="middle">12</text>
<text x="273.40" y="247.50" font-size="9.4" fill="#000" stroke="#000" stroke-width="0.12" text-anchor="end">1</text>
<text x="273.40" y="210.50" font-size="9.4" fill="#000" stroke="#000" stroke-width="0.12" text-anchor="end">2</text>
<text x="273.40" y="173.50" font-size="9.4" fill="#000" stroke="#000" stroke-width="0.12" text-anchor="end">3</text>
<text x="273.40" y="136.50" font-size="9.4" fill="#000" stroke="#000" stroke-width="0.12" text-anchor="end">4</text>
<text x="273.40" y="99.50" font-size="9.4" fill="#000" stroke="#000" stroke-width="0.12" text-anchor="end">5</text>
<text x="273.40" y="62.50" font-size="9.4" fill="#000" stroke="#000" stroke-width="0.12" text-anchor="end">6</text>
<text x="274.00" y="286.10" font-size="15.3" fill="#000" stroke="#000" stroke-width="0.12" text-anchor="start">Time of Planet Formation (Gyr)</text>
<rect x="272.70" y="43.0" width="15.53" height="5.399999999999999" fill="#ff0000"/>
<rect x="287.93" y="43.0" width="15.53" height="5.399999999999999" fill="#cc0000"/>
<rect x="303.16" y="43.0" width="15.53" height="5.399999999999999" fill="#ff7f3f"/>
<rect x="318.39" y="43.0" width="15.53" height="5.399999999999999" fill="#ff5a00"/>
<rect x="333.61" y="43.0" width="15.53" height="5.399999999999999" fill="#ffa500"/>
<rect x="348.84" y="43.0" width="15.53" height="5.399999999999999" fill="#ffff00"/>
<rect x="364.07" y="43.0" width="15.53" height="5.399999999999999" fill="#80ff00"/>
<rect x="379.30" y="43.0" width="15.53" height="5.399999999999999" fill="#00e600"/>
<rect x="394.53" y="43.0" width="15.53" height="5.399999999999999" fill="#00ff90"/>
<rect x="409.76" y="43.0" width="15.53" height="5.399999999999999" fill="#00ffff"/>
<rect x="424.99" y="43.0" width="15.53" height="5.399999999999999" fill="#00a0ff"/>
<rect x="440.21" y="43.0" width="15.53" height="5.399999999999999" fill="#0040ff"/>
<rect x="455.44" y="43.0" width="15.53" height="5.399999999999999" fill="#7f00ff"/>
<rect x="470.67" y="43.0" width="15.23" height="5.399999999999999" fill="#6a00d8"/>
<path d="M272.70,43.0v-3M275.54,43.0v-1.5M278.39,43.0v-1.5M281.23,43.0v-1.5M284.07,43.0v-1.5M286.91,43.0v-1.5M289.76,43.0v-1.5M292.60,43.0v-1.5M295.44,43.0v-1.5M298.29,43.0v-1.5M301.13,43.0v-3M303.97,43.0v-1.5M306.82,43.0v-1.5M309.66,43.0v-1.5M312.50,43.0v-1.5M315.34,43.0v-1.5M318.19,43.0v-1.5M321.03,43.0v-1.5M323.87,43.0v-1.5M326.72,43.0v-1.5M329.56,43.0v-3M332.40,43.0v-1.5M335.25,43.0v-1.5M338.09,43.0v-1.5M340.93,43.0v-1.5M343.77,43.0v-1.5M346.62,43.0v-1.5M349.46,43.0v-1.5M352.30,43.0v-1.5M355.15,43.0v-1.5M357.99,43.0v-3M360.83,43.0v-1.5M363.68,43.0v-1.5M366.52,43.0v-1.5M369.36,43.0v-1.5M372.20,43.0v-1.5M375.05,43.0v-1.5M377.89,43.0v-1.5M380.73,43.0v-1.5M383.58,43.0v-1.5M386.42,43.0v-3M389.26,43.0v-1.5M392.11,43.0v-1.5M394.95,43.0v-1.5M397.79,43.0v-1.5M400.63,43.0v-1.5M403.48,43.0v-1.5M406.32,43.0v-1.5M409.16,43.0v-1.5M412.01,43.0v-1.5M414.85,43.0v-3M417.69,43.0v-1.5M420.54,43.0v-1.5M423.38,43.0v-1.5M426.22,43.0v-1.5M429.06,43.0v-1.5M431.91,43.0v-1.5M434.75,43.0v-1.5M437.59,43.0v-1.5M440.44,43.0v-1.5M443.28,43.0v-3M446.12,43.0v-1.5M448.97,43.0v-1.5M451.81,43.0v-1.5M454.65,43.0v-1.5M457.50,43.0v-1.5M460.34,43.0v-1.5M463.18,43.0v-1.5M466.02,43.0v-1.5M468.87,43.0v-1.5M471.71,43.0v-3M474.55,43.0v-1.5M477.40,43.0v-1.5M480.24,43.0v-1.5M483.08,43.0v-1.5M485.92,43.0v-1.5" stroke="#000" stroke-width="1" fill="none"/>
<text x="272.70" y="36.50" font-size="7.4" fill="#000" stroke="#000" stroke-width="0.05" text-anchor="middle">0</text>
<text x="301.13" y="36.50" font-size="7.4" fill="#000" stroke="#000" stroke-width="0.05" text-anchor="middle">1</text>
<text x="329.56" y="36.50" font-size="7.4" fill="#000" stroke="#000" stroke-width="0.05" text-anchor="middle">2</text>
<text x="357.99" y="36.50" font-size="7.4" fill="#000" stroke="#000" stroke-width="0.05" text-anchor="middle">3</text>
<text x="386.42" y="36.50" font-size="7.4" fill="#000" stroke="#000" stroke-width="0.05" text-anchor="middle">4</text>
<text x="414.85" y="36.50" font-size="7.4" fill="#000" stroke="#000" stroke-width="0.05" text-anchor="middle">5</text>
<text x="443.28" y="36.50" font-size="7.4" fill="#000" stroke="#000" stroke-width="0.05" text-anchor="middle">6</text>
<text x="471.71" y="36.50" font-size="7.4" fill="#000" stroke="#000" stroke-width="0.05" text-anchor="middle">7</text>
<text x="299.70" y="26.80" font-size="9.7" fill="#000" stroke="#000" stroke-width="0.12" text-anchor="start">Age Degassing Ends (Gyr) [Average]</text>
<text x="293.50" y="237.10" font-size="9.7" fill="#000" stroke="#000" stroke-width="0.12" text-anchor="start" transform="rotate(-90 293.50 237.10)">Milky Way Forms</text>
<text x="422.00" y="114.80" font-size="9.6" fill="#000" stroke="#000" stroke-width="0.12" text-anchor="start" transform="rotate(-90 422.00 114.80)">Earth Forms</text>
<text x="361.8" y="130.5" font-size="9.8" fill="#7c7c7c" stroke="#7c7c7c" stroke-width="0.12" transform="rotate(-90 361.8 130.5)"><tspan font-size="6.9" dy="-4.4">235</tspan><tspan dy="4.4">U Dominates</tspan></text>
<text x="374.4" y="125.3" font-size="9.8" fill="#7c7c7c" stroke="#7c7c7c" stroke-width="0.12" transform="rotate(-90 374.4 125.3)"><tspan font-size="6.9" dy="-4.4">40</tspan><tspan dy="4.4">K Dominates</tspan></text>
<path d="M364,128.70000000000002H371.79999999999995V126.10000000000001L377.4,130.4L371.79999999999995,134.70000000000002V132.1H364Z" fill="#7c7c7c"/>
<path d="M365,136.8H356.20000000000005V134.2L350.6,138.5L356.20000000000005,142.8V140.2H365Z" fill="#7c7c7c"/>
<text x="295.5" y="141" font-size="9.8" fill="#000" stroke="#000" stroke-width="0.12" text-anchor="middle" dy="3.4" transform="rotate(-56 295.5 141)">4 Gyr</text>
<text x="321" y="215.3" font-size="9.8" fill="#000" stroke="#000" stroke-width="0.12" text-anchor="middle" dy="3.4" transform="rotate(-36 321 215.3)">3 Gyr</text>
<text x="459" y="228.6" font-size="9.8" fill="#000" stroke="#000" stroke-width="0.12" text-anchor="middle" dy="3.4" transform="rotate(-26.5 459 228.6)">2 Gyr</text>
<clipPath id="clip2"><rect x="521.8" y="60.6" width="192.60000000000002" height="184.70000000000002"/></clipPath>
<g clip-path="url(#clip2)">
<rect x="521.8" y="60.6" width="192.60000000000002" height="184.70000000000002" fill="#9a0078"/>
<path d="M551.00,40.60L551.00,60.60C549.28,64.15 544.15,75.60 540.70,81.90C537.25,88.20 533.42,93.58 530.30,98.40C527.18,103.22 523.42,108.70 522.00,110.80C520.58,112.90 521.83,110.97 521.80,111.00L501.80,111.00L501.80,265.30L734.40,265.30L734.40,40.60Z" fill="#5500aa"/>
<path d="M586.00,40.60L586.00,60.60C584.83,63.50 581.67,72.27 579.00,78.00C576.33,83.73 573.17,89.83 570.00,95.00C566.83,100.17 563.67,104.17 560.00,109.00C556.33,113.83 552.17,119.33 548.00,124.00C543.83,128.67 539.37,133.17 535.00,137.00C530.63,140.83 524.00,145.33 521.80,147.00L501.80,147.00L501.80,265.30L734.40,265.30L734.40,40.60Z" fill="#6a00d8"/>
<path d="M630.00,40.60L630.00,60.60C625.07,66.50 608.42,85.47 600.40,96.00C592.38,106.53 587.80,115.63 581.90,123.80C576.00,131.97 569.77,138.57 565.00,145.00C560.23,151.43 558.00,156.42 553.30,162.40C548.60,168.38 542.05,175.63 536.80,180.90C531.55,186.17 524.30,191.82 521.80,194.00L501.80,194.00L501.80,265.30L734.40,265.30L734.40,40.60Z" fill="#7f00ff"/>
<path d="M671.60,40.60L671.60,60.60C669.67,63.50 663.68,72.27 660.00,78.00C656.32,83.73 652.63,89.42 649.50,95.00C646.37,100.58 644.98,104.97 641.20,111.50C637.42,118.03 631.27,128.37 626.80,134.20C622.33,140.03 618.53,143.03 614.40,146.50C610.27,149.97 608.07,150.08 602.00,155.00C595.93,159.92 585.50,170.08 578.00,176.00C570.50,181.92 563.47,185.67 557.00,190.50C550.53,195.33 545.07,201.17 539.20,205.00C533.33,208.83 524.70,212.08 521.80,213.50L501.80,213.50L501.80,265.30L734.40,265.30L734.40,40.60Z" fill="#0040ff"/>
<path d="M734.40,69.50L714.40,69.50C712.17,73.95 705.90,88.45 701.00,96.20C696.10,103.95 690.17,109.57 685.00,116.00C679.83,122.43 677.93,125.80 670.00,134.80C662.07,143.80 645.73,162.27 637.40,170.00C629.07,177.73 625.40,176.62 620.00,181.20C614.60,185.78 612.00,192.77 605.00,197.50C598.00,202.23 587.35,206.03 578.00,209.60C568.65,213.17 558.27,216.08 548.90,218.90C539.53,221.72 526.32,225.23 521.80,226.50L501.80,226.50L501.80,265.30L734.40,265.30Z" fill="#00a0ff"/>
<path d="M734.40,147.20L714.40,147.20C710.78,151.00 699.57,163.60 692.70,170.00C685.83,176.40 680.02,180.60 673.20,185.60C666.38,190.60 657.33,196.37 651.80,200.00C646.27,203.63 645.65,204.80 640.00,207.40C634.35,210.00 624.57,213.20 617.90,215.60C611.23,218.00 608.25,219.47 600.00,221.80C591.75,224.13 579.02,226.12 568.40,229.60C557.78,233.08 542.87,240.08 536.30,242.70C529.73,245.32 530.22,244.87 529.00,245.30L529.00,265.30L734.40,265.30Z" fill="#00ffff"/>
<path d="M734.40,197.20L714.40,197.20C711.13,198.92 702.20,204.42 694.80,207.50C687.40,210.58 681.63,211.30 670.00,215.70C658.37,220.10 638.23,228.97 625.00,233.90C611.77,238.83 596.33,243.40 590.60,245.30L590.60,265.30L734.40,265.30Z" fill="#00ff90"/>
<path d="M734.40,227.70L714.40,227.70C709.42,229.75 693.22,237.07 684.50,240.00C675.78,242.93 665.83,244.42 662.10,245.30L662.10,265.30L734.40,265.30Z" fill="#00e600"/>
<path d="M556.50,60.60C555.75,62.67 553.60,68.77 552.00,73.00C550.40,77.23 549.13,81.60 546.90,86.00C544.67,90.40 541.25,95.82 538.60,99.40C535.95,102.98 533.42,104.88 531.00,107.50C528.58,110.12 525.63,113.43 524.10,115.10C522.57,116.77 522.18,117.10 521.80,117.50" fill="none" stroke="#000" stroke-width="1.7" stroke-linejoin="round"/>
<path d="M642.00,60.60C638.87,66.53 628.67,87.13 623.20,96.20C617.73,105.27 613.02,110.20 609.20,115.00C605.38,119.80 604.58,119.93 600.30,125.00C596.02,130.07 588.55,139.73 583.50,145.40C578.45,151.07 575.03,154.48 570.00,159.00C564.97,163.52 559.18,167.98 553.30,172.50C547.42,177.02 539.95,181.85 534.70,186.10C529.45,190.35 523.95,196.02 521.80,198.00" fill="none" stroke="#000" stroke-width="1.7" stroke-linejoin="round"/>
<path d="M714.40,107.60C710.78,111.95 698.60,126.22 692.70,133.70C686.80,141.18 686.12,145.20 679.00,152.50C671.88,159.80 659.00,170.50 650.00,177.50C641.00,184.50 633.33,189.18 625.00,194.50C616.67,199.82 607.83,205.33 600.00,209.40C592.17,213.47 586.52,215.78 578.00,218.90C569.48,222.02 558.27,224.78 548.90,228.10C539.53,231.42 526.32,237.02 521.80,238.80" fill="none" stroke="#000" stroke-width="1.7" stroke-linejoin="round"/>
<path d="M714.40,216.40C710.33,217.58 696.87,221.40 690.00,223.50C683.13,225.60 679.87,226.80 673.20,229.00C666.53,231.20 657.90,233.98 650.00,236.70C642.10,239.42 629.83,243.87 625.80,245.30" fill="none" stroke="#000" stroke-width="1.7" stroke-linejoin="round"/>
</g>
<line x1="520.90" y1="51.9" x2="520.90" y2="254.6" stroke="#bcbcbc" stroke-width="1.7" stroke-dasharray="3.4,2.9"/>
<line x1="649.60" y1="51.9" x2="649.60" y2="254.6" stroke="#bcbcbc" stroke-width="1.7" stroke-dasharray="3.4,2.9"/>
<line x1="601.55" y1="51.9" x2="601.55" y2="254.6" stroke="#d0d0d0" stroke-width="1.6" stroke-dasharray="3.4,2.9"/>
<path d="M520.40,243.80L523.20,246.60M520.40,246.60L523.20,243.80" stroke="#000" stroke-width="0.85"/>
<path d="M520.40,206.88L523.20,209.68M520.40,209.68L523.20,206.88" stroke="#000" stroke-width="0.85"/>
<path d="M520.40,169.96L523.20,172.76M520.40,172.76L523.20,169.96" stroke="#000" stroke-width="0.85"/>
<path d="M520.40,133.04L523.20,135.84M520.40,135.84L523.20,133.04" stroke="#000" stroke-width="0.85"/>
<path d="M520.40,96.12L523.20,98.92M520.40,98.92L523.20,96.12" stroke="#000" stroke-width="0.85"/>
<path d="M520.40,59.20L523.20,62.00M520.40,62.00L523.20,59.20" stroke="#000" stroke-width="0.85"/>
<path d="M552.50,243.80L555.30,246.60M552.50,246.60L555.30,243.80" stroke="#000" stroke-width="0.85"/>
<path d="M552.50,206.88L555.30,209.68M552.50,209.68L555.30,206.88" stroke="#000" stroke-width="0.85"/>
<path d="M552.50,169.96L555.30,172.76M552.50,172.76L555.30,169.96" stroke="#000" stroke-width="0.85"/>
<path d="M552.50,133.04L555.30,135.84M552.50,135.84L555.30,133.04" stroke="#000" stroke-width="0.85"/>
<path d="M552.50,96.12L555.30,98.92M552.50,98.92L555.30,96.12" stroke="#000" stroke-width="0.85"/>
<path d="M552.50,59.20L555.30,62.00M552.50,62.00L555.30,59.20" stroke="#000" stroke-width="0.85"/>
<path d="M584.60,243.80L587.40,246.60M584.60,246.60L587.40,243.80" stroke="#000" stroke-width="0.85"/>
<path d="M584.60,206.88L587.40,209.68M584.60,209.68L587.40,206.88" stroke="#000" stroke-width="0.85"/>
<path d="M584.60,169.96L587.40,172.76M584.60,172.76L587.40,169.96" stroke="#000" stroke-width="0.85"/>
<path d="M584.60,133.04L587.40,135.84M584.60,135.84L587.40,133.04" stroke="#000" stroke-width="0.85"/>
<path d="M584.60,96.12L587.40,98.92M584.60,98.92L587.40,96.12" stroke="#000" stroke-width="0.85"/>
<path d="M584.60,59.20L587.40,62.00M584.60,62.00L587.40,59.20" stroke="#000" stroke-width="0.85"/>
<path d="M616.70,243.80L619.50,246.60M616.70,246.60L619.50,243.80" stroke="#000" stroke-width="0.85"/>
<path d="M616.70,206.88L619.50,209.68M616.70,209.68L619.50,206.88" stroke="#000" stroke-width="0.85"/>
<path d="M616.70,169.96L619.50,172.76M616.70,172.76L619.50,169.96" stroke="#000" stroke-width="0.85"/>
<path d="M616.70,133.04L619.50,135.84M616.70,135.84L619.50,133.04" stroke="#000" stroke-width="0.85"/>
<path d="M616.70,96.12L619.50,98.92M616.70,98.92L619.50,96.12" stroke="#000" stroke-width="0.85"/>
<path d="M616.70,59.20L619.50,62.00M616.70,62.00L619.50,59.20" stroke="#000" stroke-width="0.85"/>
<path d="M648.80,243.80L651.60,246.60M648.80,246.60L651.60,243.80" stroke="#000" stroke-width="0.85"/>
<path d="M648.80,206.88L651.60,209.68M648.80,209.68L651.60,206.88" stroke="#000" stroke-width="0.85"/>
<path d="M648.80,169.96L651.60,172.76M648.80,172.76L651.60,169.96" stroke="#000" stroke-width="0.85"/>
<path d="M648.80,133.04L651.60,135.84M648.80,135.84L651.60,133.04" stroke="#000" stroke-width="0.85"/>
<path d="M648.80,96.12L651.60,98.92M648.80,98.92L651.60,96.12" stroke="#000" stroke-width="0.85"/>
<path d="M648.80,59.20L651.60,62.00M648.80,62.00L651.60,59.20" stroke="#000" stroke-width="0.85"/>
<path d="M680.90,243.80L683.70,246.60M680.90,246.60L683.70,243.80" stroke="#000" stroke-width="0.85"/>
<path d="M680.90,206.88L683.70,209.68M680.90,209.68L683.70,206.88" stroke="#000" stroke-width="0.85"/>
<path d="M680.90,169.96L683.70,172.76M680.90,172.76L683.70,169.96" stroke="#000" stroke-width="0.85"/>
<path d="M680.90,133.04L683.70,135.84M680.90,135.84L683.70,133.04" stroke="#000" stroke-width="0.85"/>
<path d="M680.90,96.12L683.70,98.92M680.90,98.92L683.70,96.12" stroke="#000" stroke-width="0.85"/>
<path d="M680.90,59.20L683.70,62.00M680.90,62.00L683.70,59.20" stroke="#000" stroke-width="0.85"/>
<path d="M713.00,243.80L715.80,246.60M713.00,246.60L715.80,243.80" stroke="#000" stroke-width="0.85"/>
<path d="M713.00,206.88L715.80,209.68M713.00,209.68L715.80,206.88" stroke="#000" stroke-width="0.85"/>
<path d="M713.00,169.96L715.80,172.76M713.00,172.76L715.80,169.96" stroke="#000" stroke-width="0.85"/>
<path d="M713.00,133.04L715.80,135.84M713.00,135.84L715.80,133.04" stroke="#000" stroke-width="0.85"/>
<path d="M713.00,96.12L715.80,98.92M713.00,98.92L715.80,96.12" stroke="#000" stroke-width="0.85"/>
<path d="M713.00,59.20L715.80,62.00M713.00,62.00L715.80,59.20" stroke="#000" stroke-width="0.85"/>
<rect x="514.2" y="50.9" width="204.29999999999995" height="204.7" fill="none" stroke="#000" stroke-width="1.1"/>
<path d="M521.80,255.6v-4M521.80,50.9v4M525.01,255.6v-2M525.01,50.9v2M528.22,255.6v-2M528.22,50.9v2M531.43,255.6v-2M531.43,50.9v2M534.64,255.6v-2M534.64,50.9v2M537.85,255.6v-2M537.85,50.9v2M541.06,255.6v-2M541.06,50.9v2M544.27,255.6v-2M544.27,50.9v2M547.48,255.6v-2M547.48,50.9v2M550.69,255.6v-2M550.69,50.9v2M553.90,255.6v-4M553.90,50.9v4M557.11,255.6v-2M557.11,50.9v2M560.32,255.6v-2M560.32,50.9v2M563.53,255.6v-2M563.53,50.9v2M566.74,255.6v-2M566.74,50.9v2M569.95,255.6v-2M569.95,50.9v2M573.16,255.6v-2M573.16,50.9v2M576.37,255.6v-2M576.37,50.9v2M579.58,255.6v-2M579.58,50.9v2M582.79,255.6v-2M582.79,50.9v2M586.00,255.6v-4M586.00,50.9v4M589.21,255.6v-2M589.21,50.9v2M592.42,255.6v-2M592.42,50.9v2M595.63,255.6v-2M595.63,50.9v2M598.84,255.6v-2M598.84,50.9v2M602.05,255.6v-2M602.05,50.9v2M605.26,255.6v-2M605.26,50.9v2M608.47,255.6v-2M608.47,50.9v2M611.68,255.6v-2M611.68,50.9v2M614.89,255.6v-2M614.89,50.9v2M618.10,255.6v-4M618.10,50.9v4M621.31,255.6v-2M621.31,50.9v2M624.52,255.6v-2M624.52,50.9v2M627.73,255.6v-2M627.73,50.9v2M630.94,255.6v-2M630.94,50.9v2M634.15,255.6v-2M634.15,50.9v2M637.36,255.6v-2M637.36,50.9v2M640.57,255.6v-2M640.57,50.9v2M643.78,255.6v-2M643.78,50.9v2M646.99,255.6v-2M646.99,50.9v2M650.20,255.6v-4M650.20,50.9v4M653.41,255.6v-2M653.41,50.9v2M656.62,255.6v-2M656.62,50.9v2M659.83,255.6v-2M659.83,50.9v2M663.04,255.6v-2M663.04,50.9v2M666.25,255.6v-2M666.25,50.9v2M669.46,255.6v-2M669.46,50.9v2M672.67,255.6v-2M672.67,50.9v2M675.88,255.6v-2M675.88,50.9v2M679.09,255.6v-2M679.09,50.9v2M682.30,255.6v-4M682.30,50.9v4M685.51,255.6v-2M685.51,50.9v2M688.72,255.6v-2M688.72,50.9v2M691.93,255.6v-2M691.93,50.9v2M695.14,255.6v-2M695.14,50.9v2M698.35,255.6v-2M698.35,50.9v2M701.56,255.6v-2M701.56,50.9v2M704.77,255.6v-2M704.77,50.9v2M707.98,255.6v-2M707.98,50.9v2M711.19,255.6v-2M711.19,50.9v2M714.40,255.6v-4M714.40,50.9v4M514.2,245.20h4M718.5,245.20h-4M514.2,241.51h2M718.5,241.51h-2M514.2,237.82h2M718.5,237.82h-2M514.2,234.12h2M718.5,234.12h-2M514.2,230.43h2M718.5,230.43h-2M514.2,226.74h2M718.5,226.74h-2M514.2,223.05h2M718.5,223.05h-2M514.2,219.36h2M718.5,219.36h-2M514.2,215.66h2M718.5,215.66h-2M514.2,211.97h2M718.5,211.97h-2M514.2,208.28h4M718.5,208.28h-4M514.2,204.59h2M718.5,204.59h-2M514.2,200.90h2M718.5,200.90h-2M514.2,197.20h2M718.5,197.20h-2M514.2,193.51h2M718.5,193.51h-2M514.2,189.82h2M718.5,189.82h-2M514.2,186.13h2M718.5,186.13h-2M514.2,182.44h2M718.5,182.44h-2M514.2,178.74h2M718.5,178.74h-2M514.2,175.05h2M718.5,175.05h-2M514.2,171.36h4M718.5,171.36h-4M514.2,167.67h2M718.5,167.67h-2M514.2,163.98h2M718.5,163.98h-2M514.2,160.28h2M718.5,160.28h-2M514.2,156.59h2M718.5,156.59h-2M514.2,152.90h2M718.5,152.90h-2M514.2,149.21h2M718.5,149.21h-2M514.2,145.52h2M718.5,145.52h-2M514.2,141.82h2M718.5,141.82h-2M514.2,138.13h2M718.5,138.13h-2M514.2,134.44h4M718.5,134.44h-4M514.2,130.75h2M718.5,130.75h-2M514.2,127.06h2M718.5,127.06h-2M514.2,123.36h2M718.5,123.36h-2M514.2,119.67h2M718.5,119.67h-2M514.2,115.98h2M718.5,115.98h-2M514.2,112.29h2M718.5,112.29h-2M514.2,108.60h2M718.5,108.60h-2M514.2,104.90h2M718.5,104.90h-2M514.2,101.21h2M718.5,101.21h-2M514.2,97.52h4M718.5,97.52h-4M514.2,93.83h2M718.5,93.83h-2M514.2,90.14h2M718.5,90.14h-2M514.2,86.44h2M718.5,86.44h-2M514.2,82.75h2M718.5,82.75h-2M514.2,79.06h2M718.5,79.06h-2M514.2,75.37h2M718.5,75.37h-2M514.2,71.68h2M718.5,71.68h-2M514.2,67.98h2M718.5,67.98h-2M514.2,64.29h2M718.5,64.29h-2M514.2,60.60h4M718.5,60.60h-4M514.2,56.91h2M718.5,56.91h-2M514.2,53.22h2M718.5,53.22h-2M514.2,248.89h2M718.5,248.89h-2M514.2,56.91h2M718.5,56.91h-2M514.2,252.58h2M718.5,252.58h-2M514.2,53.22h2M718.5,53.22h-2" stroke="#000" stroke-width="1.1" fill="none"/>
<text x="521.80" y="266.60" font-size="9.4" fill="#000" stroke="#000" stroke-width="0.12" text-anchor="middle">0</text>
<text x="553.90" y="266.60" font-size="9.4" fill="#000" stroke="#000" stroke-width="0.12" text-anchor="middle">2</text>
<text x="586.00" y="266.60" font-size="9.4" fill="#000" stroke="#000" stroke-width="0.12" text-anchor="middle">4</text>
<text x="618.10" y="266.60" font-size="9.4" fill="#000" stroke="#000" stroke-width="0.12" text-anchor="middle">6</text>
<text x="650.20" y="266.60" font-size="9.4" fill="#000" stroke="#000" stroke-width="0.12" text-anchor="middle">8</text>
<text x="682.30" y="266.60" font-size="9.4" fill="#000" stroke="#000" stroke-width="0.12" text-anchor="middle">10</text>
<text x="714.40" y="266.60" font-size="9.4" fill="#000" stroke="#000" stroke-width="0.12" text-anchor="middle">12</text>
<text x="511.20" y="247.20" font-size="9.4" fill="#000" stroke="#000" stroke-width="0.12" text-anchor="end">1</text>
<text x="511.20" y="210.28" font-size="9.4" fill="#000" stroke="#000" stroke-width="0.12" text-anchor="end">2</text>
<text x="511.20" y="173.36" font-size="9.4" fill="#000" stroke="#000" stroke-width="0.12" text-anchor="end">3</text>
<text x="511.20" y="136.44" font-size="9.4" fill="#000" stroke="#000" stroke-width="0.12" text-anchor="end">4</text>
<text x="511.20" y="99.52" font-size="9.4" fill="#000" stroke="#000" stroke-width="0.12" text-anchor="end">5</text>
<text x="511.20" y="62.60" font-size="9.4" fill="#000" stroke="#000" stroke-width="0.12" text-anchor="end">6</text>
<text x="511.40" y="286.10" font-size="15.3" fill="#000" stroke="#000" stroke-width="0.12" text-anchor="start">Time of Planet Formation (Gyr)</text>
<rect x="515.30" y="43.4" width="13.03" height="4.800000000000004" fill="#ff0000"/>
<rect x="528.03" y="43.4" width="13.03" height="4.800000000000004" fill="#cc0000"/>
<rect x="540.76" y="43.4" width="13.03" height="4.800000000000004" fill="#ff7f3f"/>
<rect x="553.49" y="43.4" width="13.03" height="4.800000000000004" fill="#ff5a00"/>
<rect x="566.22" y="43.4" width="13.03" height="4.800000000000004" fill="#ffa500"/>
<rect x="578.95" y="43.4" width="13.03" height="4.800000000000004" fill="#ffff00"/>
<rect x="591.68" y="43.4" width="13.03" height="4.800000000000004" fill="#80ff00"/>
<rect x="604.41" y="43.4" width="13.03" height="4.800000000000004" fill="#00e600"/>
<rect x="617.14" y="43.4" width="13.03" height="4.800000000000004" fill="#00ff90"/>
<rect x="629.87" y="43.4" width="13.03" height="4.800000000000004" fill="#00ffff"/>
<rect x="642.60" y="43.4" width="13.03" height="4.800000000000004" fill="#00a0ff"/>
<rect x="655.33" y="43.4" width="13.03" height="4.800000000000004" fill="#0040ff"/>
<rect x="668.06" y="43.4" width="13.03" height="4.800000000000004" fill="#7f00ff"/>
<rect x="680.79" y="43.4" width="13.03" height="4.800000000000004" fill="#6a00d8"/>
<rect x="693.52" y="43.4" width="13.03" height="4.800000000000004" fill="#5500aa"/>
<rect x="706.25" y="43.4" width="12.15" height="4.800000000000004" fill="#9a0078"/>
<path d="M515.30,43.4v-3M518.00,43.4v-1.5M520.70,43.4v-1.5M523.40,43.4v-1.5M526.10,43.4v-1.5M528.80,43.4v-1.5M531.50,43.4v-1.5M534.20,43.4v-1.5M536.90,43.4v-1.5M539.60,43.4v-1.5M542.30,43.4v-3M545.00,43.4v-1.5M547.70,43.4v-1.5M550.40,43.4v-1.5M553.10,43.4v-1.5M555.80,43.4v-1.5M558.50,43.4v-1.5M561.20,43.4v-1.5M563.90,43.4v-1.5M566.60,43.4v-1.5M569.30,43.4v-3M572.00,43.4v-1.5M574.70,43.4v-1.5M577.40,43.4v-1.5M580.10,43.4v-1.5M582.80,43.4v-1.5M585.50,43.4v-1.5M588.20,43.4v-1.5M590.90,43.4v-1.5M593.60,43.4v-1.5M596.30,43.4v-3M599.00,43.4v-1.5M601.70,43.4v-1.5M604.40,43.4v-1.5M607.10,43.4v-1.5M609.80,43.4v-1.5M612.50,43.4v-1.5M615.20,43.4v-1.5M617.90,43.4v-1.5M620.60,43.4v-1.5M623.30,43.4v-3M626.00,43.4v-1.5M628.70,43.4v-1.5M631.40,43.4v-1.5M634.10,43.4v-1.5M636.80,43.4v-1.5M639.50,43.4v-1.5M642.20,43.4v-1.5M644.90,43.4v-1.5M647.60,43.4v-1.5M650.30,43.4v-3M653.00,43.4v-1.5M655.70,43.4v-1.5M658.40,43.4v-1.5M661.10,43.4v-1.5M663.80,43.4v-1.5M666.50,43.4v-1.5M669.20,43.4v-1.5M671.90,43.4v-1.5M674.60,43.4v-1.5M677.30,43.4v-3M680.00,43.4v-1.5M682.70,43.4v-1.5M685.40,43.4v-1.5M688.10,43.4v-1.5M690.80,43.4v-1.5M693.50,43.4v-1.5M696.20,43.4v-1.5M698.90,43.4v-1.5M701.60,43.4v-1.5M704.30,43.4v-3M707.00,43.4v-1.5M709.70,43.4v-1.5M712.40,43.4v-1.5M715.10,43.4v-1.5M717.80,43.4v-1.5" stroke="#000" stroke-width="1" fill="none"/>
<text x="515.30" y="36.90" font-size="7.4" fill="#000" stroke="#000" stroke-width="0.05" text-anchor="middle">0</text>
<text x="542.30" y="36.90" font-size="7.4" fill="#000" stroke="#000" stroke-width="0.05" text-anchor="middle">1</text>
<text x="569.30" y="36.90" font-size="7.4" fill="#000" stroke="#000" stroke-width="0.05" text-anchor="middle">2</text>
<text x="596.30" y="36.90" font-size="7.4" fill="#000" stroke="#000" stroke-width="0.05" text-anchor="middle">3</text>
<text x="623.30" y="36.90" font-size="7.4" fill="#000" stroke="#000" stroke-width="0.05" text-anchor="middle">4</text>
<text x="650.30" y="36.90" font-size="7.4" fill="#000" stroke="#000" stroke-width="0.05" text-anchor="middle">5</text>
<text x="677.30" y="36.90" font-size="7.4" fill="#000" stroke="#000" stroke-width="0.05" text-anchor="middle">6</text>
<text x="704.30" y="36.90" font-size="7.4" fill="#000" stroke="#000" stroke-width="0.05" text-anchor="middle">7</text>
<text x="509.40" y="26.80" font-size="9.7" fill="#000" stroke="#000" stroke-width="0.12" text-anchor="start">Age Degassing Ends (Gyr) [95% CI Upper Bound]</text>
<text x="531.70" y="188.70" font-size="9.7" fill="#fff" stroke="#fff" stroke-width="0.12" text-anchor="start" transform="rotate(-90 531.70 188.70)">Milky Way Forms</text>
<text x="659.00" y="114.80" font-size="9.6" fill="#fff" stroke="#fff" stroke-width="0.12" text-anchor="start" transform="rotate(-90 659.00 114.80)">Earth Forms</text>
<text x="599.8" y="131" font-size="9.8" fill="#d4d4d4" stroke="#d4d4d4" stroke-width="0.12" transform="rotate(-90 599.8 131)"><tspan font-size="6.9" dy="-4.4">235</tspan><tspan dy="4.4">U Dominates</tspan></text>
<text x="612.8" y="126.8" font-size="9.8" fill="#d4d4d4" stroke="#d4d4d4" stroke-width="0.12" transform="rotate(-90 612.8 126.8)"><tspan font-size="6.9" dy="-4.4">40</tspan><tspan dy="4.4">K Dominates</tspan></text>
<path d="M601.5,129.5H608.9V126.89999999999999L614.5,131.2L608.9,135.5V132.89999999999998H601.5Z" fill="#d4d4d4"/>
<path d="M601.5,136.5H593.5V133.89999999999998L587.9,138.2L593.5,142.5V139.89999999999998H601.5Z" fill="#d4d4d4"/>
<text x="538.3" y="84.3" font-size="9.8" fill="#000" stroke="#000" stroke-width="0.12" text-anchor="middle" dy="3.4" transform="rotate(-58 538.3 84.3)">7 Gyr</text>
<text x="566.5" y="154.5" font-size="9.8" fill="#000" stroke="#000" stroke-width="0.12" text-anchor="middle" dy="3.4" transform="rotate(-45 566.5 154.5)">6 Gyr</text>
<text x="627" y="186" font-size="9.8" fill="#000" stroke="#000" stroke-width="0.12" text-anchor="middle" dy="3.4" transform="rotate(-30 627 186)">5 Gyr</text>
<text x="686" y="219.6" font-size="9.8" fill="#000" stroke="#000" stroke-width="0.12" text-anchor="middle" dy="3.4" transform="rotate(-28 686 219.6)">4 Gyr</text>
<text x="17.9" y="193.9" font-size="18.5" fill="#000" transform="rotate(-90 17.9 193.9)">Mass (M</text>
<g transform="translate(17.8 119.1)"><circle r="3.2" fill="none" stroke="#000" stroke-width="0.7"/><path d="M-3.2,0H3.2M0,-3.2V3.2" stroke="#000" stroke-width="0.7"/></g>
<text x="17.9" y="113.5" font-size="18.5" fill="#000" transform="rotate(-90 17.9 113.5)">)</text>
</svg></body></html>
